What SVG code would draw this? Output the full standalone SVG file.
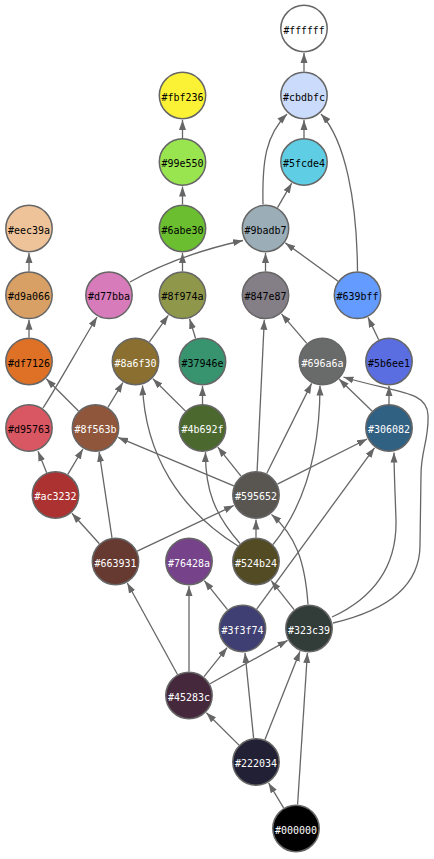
<svg xmlns="http://www.w3.org/2000/svg" width="434" height="859" viewBox="0 0 434 859">
<style>
.n circle{stroke:#666;stroke-width:1.5}
.n text{font-family:"DejaVu Sans Mono","Liberation Mono",monospace;font-size:11px;text-anchor:middle}
.d text{fill:#fff}
.l text{fill:#000}
#edges path{fill:none;stroke:#666;stroke-width:1.3;marker-end:url(#ah)}
</style>
<defs>
<marker id="ah" markerUnits="userSpaceOnUse" markerWidth="10" markerHeight="8" viewBox="0 0 10 8" refX="10" refY="4" orient="auto">
<path d="M0,0.5 L10,4 L0,7.5 z" fill="#666"/>
</marker>
</defs>
<rect width="434" height="859" fill="#fff"/>
<g id="edges">
<path d="M304,71.5 L304,53"/>
<path d="M182.5,138 L182.5,120"/>
<path d="M304,138 L304,120"/>
<path d="M182.5,204.5 L182.5,186.5"/>
<path d="M277.5,207.7 L291.7,183.2"/>
<path d="M263,204.5 C262,160 266,135 287,114"/>
<path d="M357.5,271.3 C357,200 345,140 321,114"/>
<path d="M29,271.3 L29,253"/>
<path d="M182.5,271.3 L182.5,253"/>
<path d="M130,282 C165,262 200,250 243,240.5"/>
<path d="M265.5,271.3 L265.5,253"/>
<path d="M338.1,281.2 L285.3,242.9"/>
<path d="M29,337.5 L29,319.8"/>
<path d="M43,408 C55,390 80,345 97,317"/>
<path d="M149.4,341.9 L168.3,315.3"/>
<path d="M195.6,338.5 L189.6,318.8"/>
<path d="M257.1,471 L264.3,319.8"/>
<path d="M306.8,343.3 L281.5,313.9"/>
<path d="M378.7,339.8 L368,317.4"/>
<path d="M78.5,411 L46.3,378.8"/>
<path d="M107.9,407.4 L122.9,382.5"/>
<path d="M185.5,411.1 L152.9,378.8"/>
<path d="M238,546 C180,510 145,455 142.5,385.5"/>
<path d="M202.5,404 L202.5,386"/>
<path d="M266.7,473.5 L311.6,383.4"/>
<path d="M273,544.5 C305,505 320,450 320,385.5"/>
<path d="M372,411 L339,379"/>
<path d="M333,623 C380,612 420,590 420,545 L421,475 C421,450 429,440 428,415 C427,390 395,393 343.5,377"/>
<path d="M389,404 L389,386"/>
<path d="M46.7,472.7 L38,451.2"/>
<path d="M67.8,474.4 L82.9,449"/>
<path d="M112,537.8 L99.1,451.8"/>
<path d="M233.8,485.8 L118.1,437.4"/>
<path d="M241,476.2 L217.8,447.1"/>
<path d="M240,543.5 C215,515 205,490 205.5,452"/>
<path d="M277.4,484.2 L367.1,439"/>
<path d="M256.7,609.1 L374.5,447.8"/>
<path d="M332,617 C375,597 397,565 396,520 C395,490 394,470 394,452.5"/>
<path d="M99.4,543.7 L71.9,513.2"/>
<path d="M137.2,551.2 L233.9,505.5"/>
<path d="M256,537.5 L256,519.5"/>
<path d="M308,604.5 C305,560 295,535 271.5,514.5"/>
<path d="M177.5,674.5 L127.3,583"/>
<path d="M189,671.5 L189,586"/>
<path d="M227.5,609.7 L204.3,580.6"/>
<path d="M294.1,609.7 L271.2,580.7"/>
<path d="M204,676.7 L227.2,647.6"/>
<path d="M210,683.8 L287.6,640.4"/>
<path d="M239,745.1 L206.4,712.8"/>
<path d="M253.6,738.1 L245,652.9"/>
<path d="M264.9,739.7 L300,651.3"/>
<path d="M283.6,807.9 L268.6,783"/>
<path d="M297.6,804.5 L307.4,653"/>
</g>
<g id="n-ffffff" class="n l"><circle cx="304" cy="28.5" r="23.2" fill="#ffffff"/><text x="304" y="33.5" textLength="41" lengthAdjust="spacingAndGlyphs">#ffffff</text></g>
<g id="n-cbdbfc" class="n l"><circle cx="304" cy="95.5" r="23.2" fill="#cbdbfc"/><text x="304" y="100.5" textLength="42" lengthAdjust="spacingAndGlyphs">#cbdbfc</text></g>
<g id="n-fbf236" class="n l"><circle cx="182.5" cy="95.5" r="23.2" fill="#fbf236"/><text x="182.5" y="100.5" textLength="42" lengthAdjust="spacingAndGlyphs">#fbf236</text></g>
<g id="n-99e550" class="n l"><circle cx="182.5" cy="162" r="23.2" fill="#99e550"/><text x="182.5" y="167" textLength="42" lengthAdjust="spacingAndGlyphs">#99e550</text></g>
<g id="n-5fcde4" class="n l"><circle cx="304" cy="162" r="23.2" fill="#5fcde4"/><text x="304" y="167" textLength="42" lengthAdjust="spacingAndGlyphs">#5fcde4</text></g>
<g id="n-eec39a" class="n l"><circle cx="29" cy="228.5" r="23.2" fill="#eec39a"/><text x="29" y="233.5" textLength="42" lengthAdjust="spacingAndGlyphs">#eec39a</text></g>
<g id="n-6abe30" class="n l"><circle cx="182.5" cy="228.5" r="23.2" fill="#6abe30"/><text x="182.5" y="233.5" textLength="42" lengthAdjust="spacingAndGlyphs">#6abe30</text></g>
<g id="n-9badb7" class="n l"><circle cx="265.5" cy="228.5" r="23.2" fill="#9badb7"/><text x="265.5" y="233.5" textLength="42" lengthAdjust="spacingAndGlyphs">#9badb7</text></g>
<g id="n-d9a066" class="n l"><circle cx="29" cy="295.3" r="23.2" fill="#d9a066"/><text x="29" y="300.3" textLength="42" lengthAdjust="spacingAndGlyphs">#d9a066</text></g>
<g id="n-d77bba" class="n l"><circle cx="109" cy="295.3" r="23.2" fill="#d77bba"/><text x="109" y="300.3" textLength="42" lengthAdjust="spacingAndGlyphs">#d77bba</text></g>
<g id="n-8f974a" class="n l"><circle cx="182.5" cy="295.3" r="23.2" fill="#8f974a"/><text x="182.5" y="300.3" textLength="42" lengthAdjust="spacingAndGlyphs">#8f974a</text></g>
<g id="n-847e87" class="n l"><circle cx="265.5" cy="295.3" r="23.2" fill="#847e87"/><text x="265.5" y="300.3" textLength="42" lengthAdjust="spacingAndGlyphs">#847e87</text></g>
<g id="n-639bff" class="n l"><circle cx="357.5" cy="295.3" r="23.2" fill="#639bff"/><text x="357.5" y="300.3" textLength="42" lengthAdjust="spacingAndGlyphs">#639bff</text></g>
<g id="n-df7126" class="n l"><circle cx="29" cy="361.5" r="23.2" fill="#df7126"/><text x="29" y="366.5" textLength="42" lengthAdjust="spacingAndGlyphs">#df7126</text></g>
<g id="n-8a6f30" class="n d"><circle cx="135.5" cy="361.5" r="23.2" fill="#8a6f30"/><text x="135.5" y="366.5" textLength="42" lengthAdjust="spacingAndGlyphs">#8a6f30</text></g>
<g id="n-37946e" class="n l"><circle cx="202.5" cy="361.5" r="23.2" fill="#37946e"/><text x="202.5" y="366.5" textLength="42" lengthAdjust="spacingAndGlyphs">#37946e</text></g>
<g id="n-696a6a" class="n d"><circle cx="322.5" cy="361.5" r="23.2" fill="#696a6a"/><text x="322.5" y="366.5" textLength="42" lengthAdjust="spacingAndGlyphs">#696a6a</text></g>
<g id="n-5b6ee1" class="n l"><circle cx="389" cy="361.5" r="23.2" fill="#5b6ee1"/><text x="389" y="366.5" textLength="42" lengthAdjust="spacingAndGlyphs">#5b6ee1</text></g>
<g id="n-d95763" class="n l"><circle cx="29" cy="428" r="23.2" fill="#d95763"/><text x="29" y="433" textLength="42" lengthAdjust="spacingAndGlyphs">#d95763</text></g>
<g id="n-8f563b" class="n d"><circle cx="95.5" cy="428" r="23.2" fill="#8f563b"/><text x="95.5" y="433" textLength="42" lengthAdjust="spacingAndGlyphs">#8f563b</text></g>
<g id="n-4b692f" class="n d"><circle cx="202.5" cy="428" r="23.2" fill="#4b692f"/><text x="202.5" y="433" textLength="42" lengthAdjust="spacingAndGlyphs">#4b692f</text></g>
<g id="n-306082" class="n d"><circle cx="389" cy="428" r="23.2" fill="#306082"/><text x="389" y="433" textLength="42" lengthAdjust="spacingAndGlyphs">#306082</text></g>
<g id="n-ac3232" class="n d"><circle cx="55.5" cy="495" r="23.2" fill="#ac3232"/><text x="55.5" y="500" textLength="42" lengthAdjust="spacingAndGlyphs">#ac3232</text></g>
<g id="n-595652" class="n d"><circle cx="256" cy="495" r="23.2" fill="#595652"/><text x="256" y="500" textLength="42" lengthAdjust="spacingAndGlyphs">#595652</text></g>
<g id="n-663931" class="n d"><circle cx="115.5" cy="561.5" r="23.2" fill="#663931"/><text x="115.5" y="566.5" textLength="42" lengthAdjust="spacingAndGlyphs">#663931</text></g>
<g id="n-76428a" class="n d"><circle cx="189" cy="561.5" r="23.2" fill="#76428a"/><text x="189" y="566.5" textLength="42" lengthAdjust="spacingAndGlyphs">#76428a</text></g>
<g id="n-524b24" class="n d"><circle cx="256" cy="561.5" r="23.2" fill="#524b24"/><text x="256" y="566.5" textLength="42" lengthAdjust="spacingAndGlyphs">#524b24</text></g>
<g id="n-3f3f74" class="n d"><circle cx="242.5" cy="628.5" r="23.2" fill="#3f3f74"/><text x="242.5" y="633.5" textLength="42" lengthAdjust="spacingAndGlyphs">#3f3f74</text></g>
<g id="n-323c39" class="n d"><circle cx="309" cy="628.5" r="23.2" fill="#323c39"/><text x="309" y="633.5" textLength="42" lengthAdjust="spacingAndGlyphs">#323c39</text></g>
<g id="n-45283c" class="n d"><circle cx="189" cy="695.5" r="23.2" fill="#45283c"/><text x="189" y="700.5" textLength="42" lengthAdjust="spacingAndGlyphs">#45283c</text></g>
<g id="n-222034" class="n d"><circle cx="256" cy="762" r="23.2" fill="#222034"/><text x="256" y="767" textLength="42" lengthAdjust="spacingAndGlyphs">#222034</text></g>
<g id="n-000000" class="n d"><circle cx="296" cy="828.5" r="23.2" fill="#000000"/><text x="296" y="833.5" textLength="42" lengthAdjust="spacingAndGlyphs">#000000</text></g>
</svg>
